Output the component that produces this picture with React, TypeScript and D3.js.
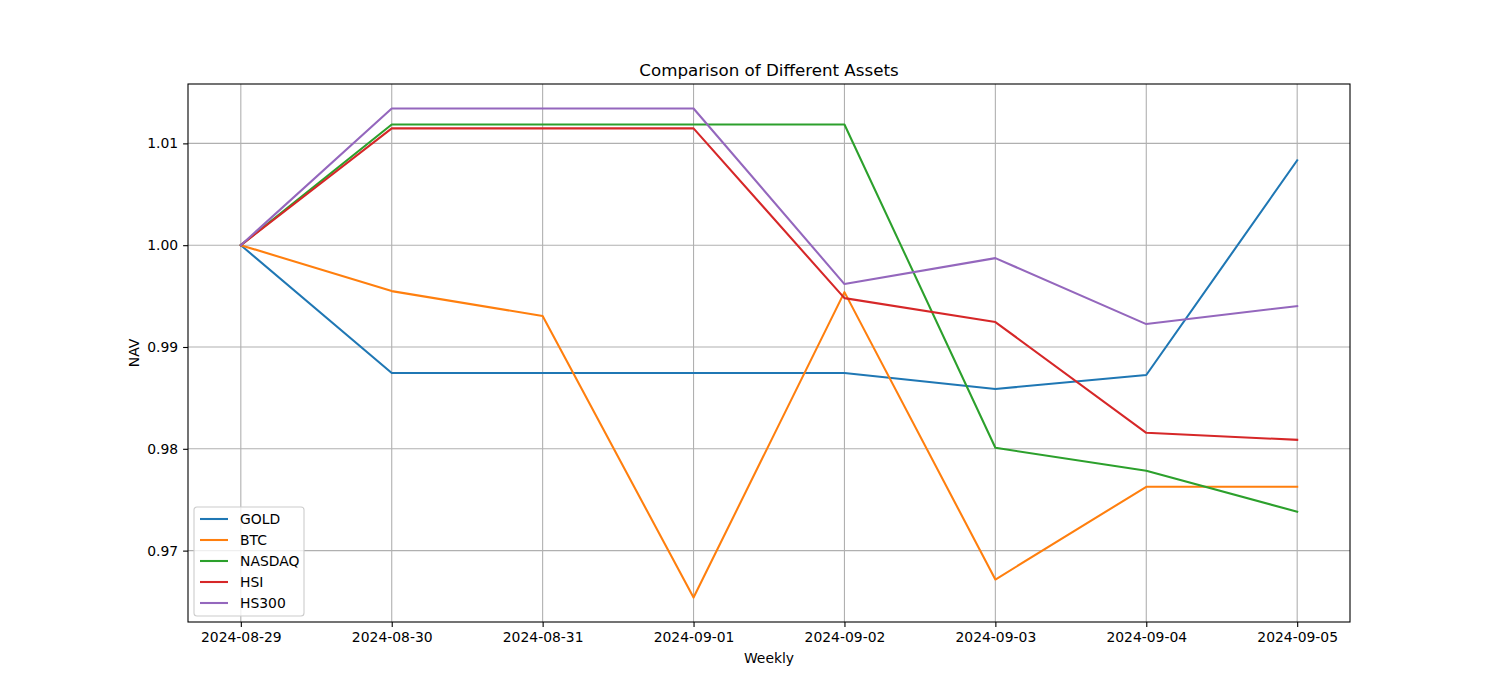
import { useEffect, useRef } from "react";
import * as d3 from "d3";

const dates = [
  "2024-08-29",
  "2024-08-30",
  "2024-08-31",
  "2024-09-01",
  "2024-09-02",
  "2024-09-03",
  "2024-09-04",
  "2024-09-05",
];

const gold = [1.0, 0.98745, 0.98745, 0.98745, 0.98745, 0.98588, 0.98725, 1.00833];
const btc = [1.0, 0.99549, 0.99304, 0.96539, 0.99539, 0.96716, 0.97627, 0.97627];
const nasdaq = [1.0, 1.01186, 1.01186, 1.01186, 1.01186, 0.9801, 0.97784, 0.97382];
const hsi = [1.0, 1.01147, 1.01147, 1.01147, 0.9948, 0.99245, 0.98157, 0.98088];
const hs300 = [1.0, 1.01343, 1.01343, 1.01343, 0.99618, 0.99873, 0.99225, 0.99402];

const yTicks = [0.97, 0.98, 0.99, 1.0, 1.01];

const series = [
  { name: "GOLD", values: gold, color: "#1f77b4" },
  { name: "BTC", values: btc, color: "#ff7f0e" },
  { name: "NASDAQ", values: nasdaq, color: "#2ca02c" },
  { name: "HSI", values: hsi, color: "#d62728" },
  { name: "HS300", values: hs300, color: "#9467bd" },
];

export default function App() {
  const ref = useRef<SVGSVGElement | null>(null);

  useEffect(() => {
    if (!ref.current) return;
    const W = 1500;
    const H = 700;
    const margin = { top: 84, right: 150, bottom: 78, left: 188 };
    const width = W - margin.left - margin.right;
    const height = H - margin.top - margin.bottom;
    const font = "DejaVu Sans, sans-serif";

    const root = d3.select(ref.current);
    root.selectAll("*").remove();
    root.attr("width", W).attr("height", H);
    root.append("rect").attr("width", W).attr("height", H).attr("fill", "#fff");

    const svg = root.append("g").attr("transform", `translate(${margin.left},${margin.top})`);

    const n = dates.length - 1;
    const x = d3.scaleLinear().domain([-0.35, n + 0.35]).range([0, width]);

    const all = series.flatMap((s) => s.values);
    const lo = d3.min(all) as number;
    const hi = d3.max(all) as number;
    const pad = (hi - lo) * 0.05;
    const y = d3.scaleLinear().domain([lo - pad, hi + pad]).range([height, 0]);

    // grid
    const grid = svg.append("g");
    dates.forEach((_, i) => {
      grid
        .append("line")
        .attr("x1", x(i))
        .attr("x2", x(i))
        .attr("y1", 0)
        .attr("y2", height)
        .attr("stroke", "#b0b0b0")
        .attr("stroke-width", 1.1);
    });
    yTicks.forEach((t) => {
      grid
        .append("line")
        .attr("x1", 0)
        .attr("x2", width)
        .attr("y1", y(t))
        .attr("y2", y(t))
        .attr("stroke", "#b0b0b0")
        .attr("stroke-width", 1.1);
    });

    const line = d3
      .line<number>()
      .x((_, i) => x(i))
      .y((d) => y(d));

    series.forEach((s) => {
      svg
        .append("path")
        .datum(s.values)
        .attr("fill", "none")
        .attr("stroke", s.color)
        .attr("stroke-width", 2.08)
        .attr("stroke-linejoin", "round")
        .attr("stroke-linecap", "square")
        .attr("d", line);
    });

    // axes
    const xAxis = svg
      .append("g")
      .attr("transform", `translate(0,${height})`)
      .call(
        d3
          .axisBottom(x)
          .tickValues(d3.range(dates.length))
          .tickFormat((d) => dates[d as number])
          .tickSize(4.9)
          .tickPadding(4.9)
      );
    const yAxis = svg.append("g").call(
      d3
        .axisLeft(y)
        .tickValues(yTicks)
        .tickFormat(d3.format(".2f"))
        .tickSize(4.9)
        .tickPadding(4.9)
    );
    [xAxis, yAxis].forEach((a) => {
      a.select(".domain").remove();
      a.selectAll("line").attr("stroke", "#000").attr("stroke-width", 1.1);
      a.selectAll("text").attr("font-family", font).attr("font-size", 13.9).attr("fill", "#000");
    });

    svg
      .append("rect")
      .attr("width", width)
      .attr("height", height)
      .attr("fill", "none")
      .attr("stroke", "#000")
      .attr("stroke-width", 1.1);

    // labels
    svg
      .append("text")
      .attr("x", width / 2)
      .attr("y", -8)
      .attr("text-anchor", "middle")
      .attr("font-family", font)
      .attr("font-size", 16.7)
      .text("Comparison of Different Assets");
    svg
      .append("text")
      .attr("x", width / 2)
      .attr("y", height + 41)
      .attr("text-anchor", "middle")
      .attr("font-family", font)
      .attr("font-size", 13.9)
      .text("Weekly");
    svg
      .append("text")
      .attr("transform", `translate(${-49},${height / 2}) rotate(-90)`)
      .attr("text-anchor", "middle")
      .attr("font-family", font)
      .attr("font-size", 13.9)
      .text("NAV");

    // legend
    const lg = svg.append("g").attr("transform", `translate(6,${height - 115})`);
    lg.append("rect")
      .attr("width", 110)
      .attr("height", 109)
      .attr("rx", 3)
      .attr("fill", "#fff")
      .attr("fill-opacity", 0.8)
      .attr("stroke", "#cccccc")
      .attr("stroke-width", 1.1);
    series.forEach((s, i) => {
      const yy = 12 + i * 21;
      lg.append("line")
        .attr("x1", 6)
        .attr("x2", 34)
        .attr("y1", yy)
        .attr("y2", yy)
        .attr("stroke", s.color)
        .attr("stroke-width", 2.08);
      lg.append("text")
        .attr("x", 46)
        .attr("y", yy)
        .attr("dy", "0.35em")
        .attr("font-family", font)
        .attr("font-size", 13.9)
        .text(s.name);
    });
  }, []);

  return <svg ref={ref} style={{ display: "block", margin: -8 }} />;
}
